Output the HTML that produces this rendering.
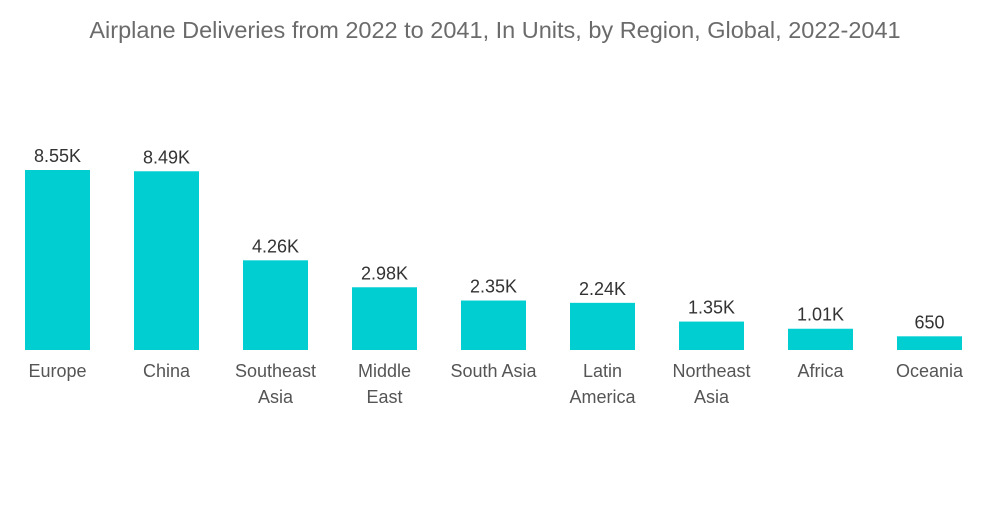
<!DOCTYPE html>
<html><head><meta charset="utf-8"><style>
body{margin:0;background:#fff;width:1000px;height:504px;overflow:hidden;font-family:"Liberation Sans",sans-serif}
</style></head><body>
<svg width="1000" height="504">
<text x="495" y="38" text-anchor="middle" font-size="23.5" fill="#6b6b6b">Airplane Deliveries from 2022 to 2041, In Units, by Region, Global, 2022-2041</text>
<g id="bars"></g>
</svg>
<script>
const categories=[["Europe"],["China"],["Southeast","Asia"],["Middle","East"],["South Asia"],["Latin","America"],["Northeast","Asia"],["Africa"],["Oceania"]];
const values=[8550,8490,4260,2980,2350,2240,1350,1010,650];
const valueLabels=["8.55K","8.49K","4.26K","2.98K","2.35K","2.24K","1.35K","1.01K","650"];
const ns="http://www.w3.org/2000/svg";
const g=document.getElementById("bars");
const base=350, scale=180/8550, x0=25, step=109, bw=65;
function y(v){return base-v*scale;}
function x(i){return x0+i*step;}
values.forEach((v,i)=>{
  const r=document.createElementNS(ns,"rect");
  r.setAttribute("x",x(i));r.setAttribute("y",y(v));r.setAttribute("width",bw);r.setAttribute("height",base-y(v));r.setAttribute("fill","#00ced1");
  
  
  g.appendChild(r);
  const t=document.createElementNS(ns,"text");
  t.setAttribute("x",x(i)+bw/2);t.setAttribute("y",y(v)-8);t.setAttribute("text-anchor","middle");t.setAttribute("font-size","18");t.setAttribute("fill","#333");
  t.textContent=valueLabels[i];
  
  
  g.appendChild(t);
  categories[i].forEach((line,j)=>{
    const c=document.createElementNS(ns,"text");
    c.setAttribute("x",x(i)+bw/2);c.setAttribute("y",377+j*26);c.setAttribute("text-anchor","middle");c.setAttribute("font-size","18");c.setAttribute("fill","#555");
    c.textContent=line;
    
    
    g.appendChild(c);
  });
});
</script>
</body></html>
